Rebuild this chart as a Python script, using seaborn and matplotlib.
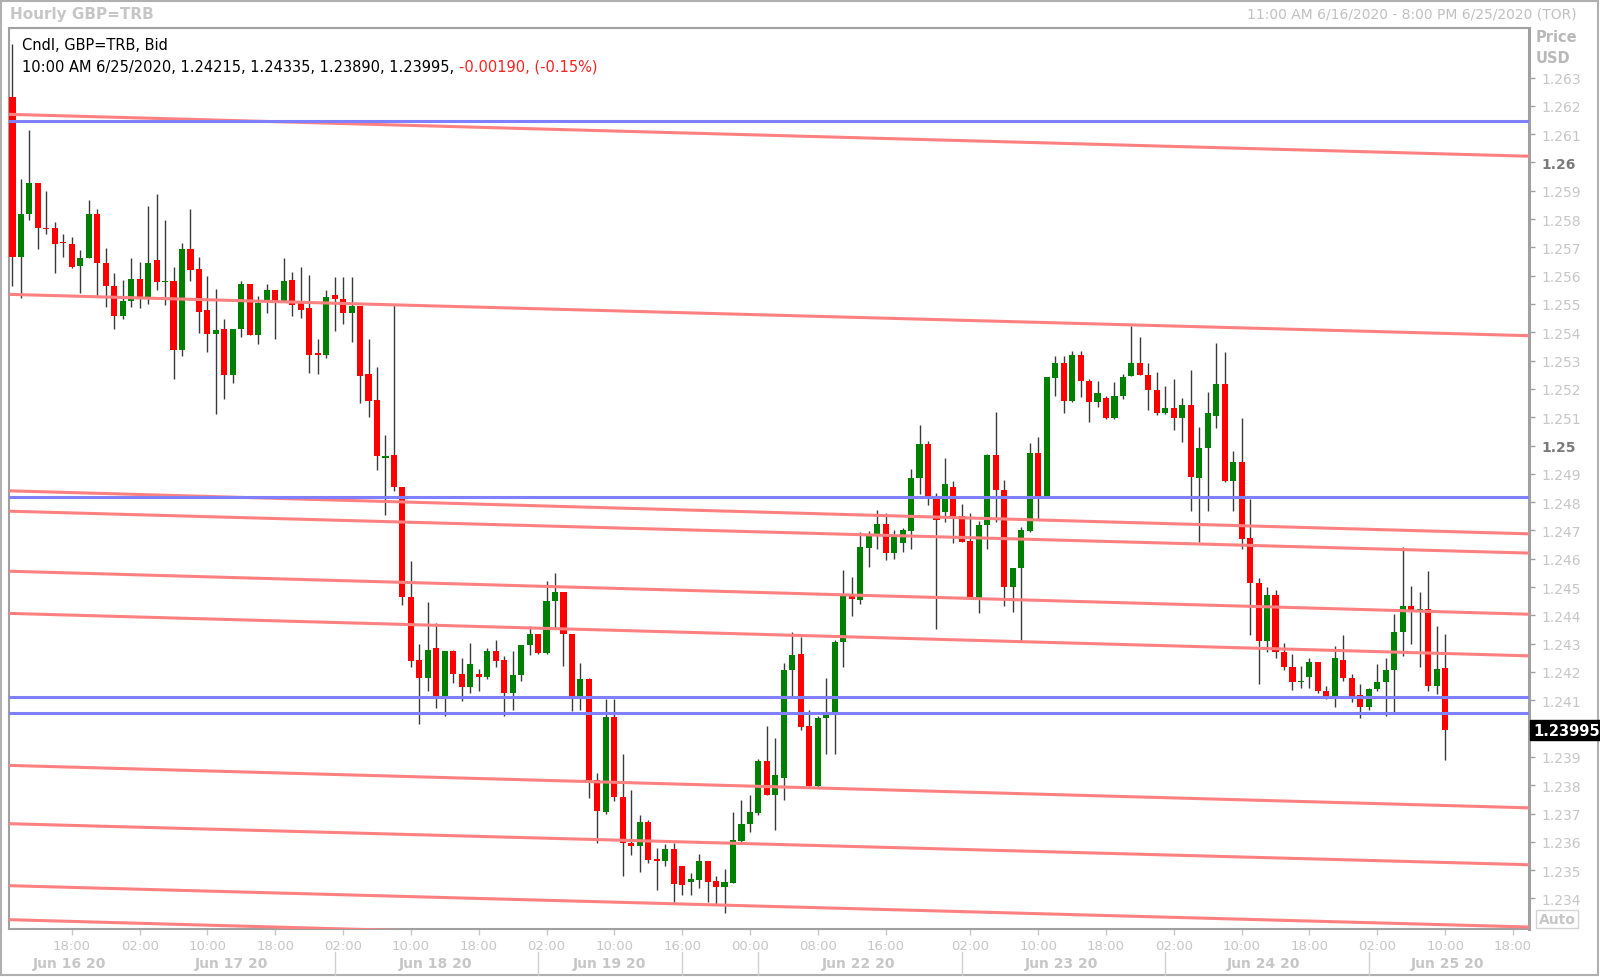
import numpy as np
import pandas as pd
import matplotlib
matplotlib.use("Agg")
import matplotlib.pyplot as plt
import matplotlib.transforms as mtransforms
from matplotlib.lines import Line2D
import seaborn as sns

# hourly GBP=TRB bars, 11:00 Jun 16 -> 10:00 Jun 25 (x = bar number)
opens = [1.26230, 1.25666, 1.25817, 1.25929, 1.25768, 1.25767, 1.25717, 1.25713, 1.25635, 1.25663,
         1.25817, 1.25646, 1.25562, 1.25458, 1.25510, 1.25587, 1.25523, 1.25654, 1.25577, 1.25581,
         1.25336, 1.25694, 1.25623, 1.25480, 1.25395, 1.25412, 1.25248, 1.25410, 1.25571, 1.25391,
         1.25510, 1.25550, 1.25510, 1.25583, 1.25502, 1.25485, 1.25327, 1.25320, 1.25531, 1.25519,
         1.25467, 1.25493, 1.25251, 1.25162, 1.24956, 1.24965, 1.24852, 1.24465, 1.24243, 1.24178,
         1.24284, 1.24115, 1.24274, 1.24193, 1.24146, 1.24193, 1.24184, 1.24274, 1.24243, 1.24126,
         1.24190, 1.24294, 1.24334, 1.24268, 1.24451, 1.24482, 1.24334, 1.24115, 1.24175, 1.23817,
         1.23705, 1.24042, 1.23759, 1.23597, 1.23585, 1.23669, 1.23539, 1.23533, 1.23575, 1.23513,
         1.23458, 1.23466, 1.23533, 1.23461, 1.23440, 1.23456, 1.23604, 1.23663, 1.23702, 1.23885,
         1.23767, 1.23827, 1.24208, 1.24262, 1.24008, 1.23797, 1.24036, 1.24048, 1.24305, 1.24468,
         1.24455, 1.24639, 1.24682, 1.24722, 1.24619, 1.24655, 1.24699, 1.24886, 1.25005, 1.24822,
         1.24766, 1.24853, 1.24752, 1.24662, 1.24461, 1.24718, 1.24966, 1.24842, 1.24499, 1.24567,
         1.24699, 1.24975, 1.24819, 1.25238, 1.25292, 1.25158, 1.25320, 1.25229, 1.25152, 1.25168,
         1.25096, 1.25174, 1.25247, 1.25291, 1.25250, 1.25197, 1.25115, 1.25132, 1.25096, 1.25143,
         1.24884, 1.24992, 1.25105, 1.25217, 1.24876, 1.24941, 1.24675, 1.24513, 1.24310, 1.24473,
         1.24269, 1.24218, 1.24163, 1.24183, 1.24237, 1.24134, 1.24116, 1.24242, 1.24178, 1.24118,
         1.24075, 1.24140, 1.24163, 1.24208, 1.24342, 1.24434, 1.24419, 1.24422, 1.24151, 1.24215]
highs = [1.26419, 1.25941, 1.26113, 1.25929, 1.25899, 1.25788, 1.25747, 1.25737, 1.25690, 1.25869,
         1.25835, 1.25698, 1.25608, 1.25583, 1.25664, 1.25648, 1.25846, 1.25890, 1.25795, 1.25629,
         1.25715, 1.25835, 1.25666, 1.25599, 1.25554, 1.25447, 1.25412, 1.25580, 1.25571, 1.25529,
         1.25571, 1.25550, 1.25664, 1.25614, 1.25629, 1.25603, 1.25378, 1.25550, 1.25597, 1.25597,
         1.25597, 1.25493, 1.25376, 1.25277, 1.25036, 1.25499, 1.24852, 1.24592, 1.24298, 1.24446,
         1.24373, 1.24274, 1.24279, 1.24248, 1.24301, 1.24211, 1.24284, 1.24313, 1.24255, 1.24274,
         1.24294, 1.24363, 1.24334, 1.24522, 1.24551, 1.24482, 1.24334, 1.24230, 1.24178, 1.23843,
         1.24106, 1.24106, 1.23911, 1.23782, 1.23695, 1.23676, 1.23579, 1.23594, 1.23597, 1.23513,
         1.23491, 1.23556, 1.23533, 1.23481, 1.23503, 1.23707, 1.23747, 1.23765, 1.23894, 1.24008,
         1.23965, 1.24232, 1.24341, 1.24324, 1.24065, 1.24045, 1.24178, 1.24312, 1.24562, 1.24535,
         1.24695, 1.24698, 1.24772, 1.24762, 1.24702, 1.24708, 1.24918, 1.25072, 1.25015, 1.24833,
         1.24955, 1.24873, 1.24792, 1.24762, 1.24735, 1.24969, 1.25118, 1.24879, 1.24567, 1.24712,
         1.25009, 1.25029, 1.25242, 1.25316, 1.25316, 1.25335, 1.25335, 1.25235, 1.25229, 1.25174,
         1.25226, 1.25253, 1.25423, 1.25382, 1.25291, 1.25258, 1.25209, 1.25235, 1.25167, 1.25268,
         1.25064, 1.25188, 1.25362, 1.25329, 1.24982, 1.25096, 1.24811, 1.24531, 1.24501, 1.24489,
         1.24301, 1.24263, 1.24222, 1.24248, 1.24237, 1.24151, 1.24290, 1.24330, 1.24193, 1.24157,
         1.24143, 1.24228, 1.24248, 1.24405, 1.24640, 1.24505, 1.24481, 1.24558, 1.24363, 1.24335]
lows = [1.25562, 1.25520, 1.25798, 1.25695, 1.25747, 1.25611, 1.25666, 1.25626, 1.25540, 1.25663,
        1.25526, 1.25490, 1.25410, 1.25447, 1.25490, 1.25486, 1.25501, 1.25550, 1.25496, 1.25234,
        1.25317, 1.25581, 1.25398, 1.25329, 1.25112, 1.25165, 1.25222, 1.25385, 1.25391, 1.25358,
        1.25467, 1.25376, 1.25510, 1.25459, 1.25450, 1.25257, 1.25253, 1.25309, 1.25406, 1.25430,
        1.25366, 1.25150, 1.25101, 1.24913, 1.24754, 1.24841, 1.24436, 1.24219, 1.24016, 1.24132,
        1.24074, 1.24045, 1.24161, 1.24099, 1.24125, 1.24132, 1.24175, 1.24219, 1.24045, 1.24067,
        1.24168, 1.24259, 1.24262, 1.24262, 1.24356, 1.24222, 1.24062, 1.24067, 1.23756, 1.23597,
        1.23698, 1.23744, 1.23481, 1.23553, 1.23495, 1.23524, 1.23430, 1.23514, 1.23387, 1.23411,
        1.23411, 1.23438, 1.23387, 1.23380, 1.23347, 1.23456, 1.23600, 1.23634, 1.23694, 1.23765,
        1.23640, 1.23747, 1.24114, 1.23994, 1.23794, 1.23794, 1.23910, 1.23910, 1.24218, 1.24399,
        1.24439, 1.24572, 1.24635, 1.24595, 1.24599, 1.24624, 1.24635, 1.24829, 1.24791, 1.24352,
        1.24731, 1.24655, 1.24659, 1.24465, 1.24408, 1.24635, 1.24731, 1.24432, 1.24412, 1.24308,
        1.24695, 1.24742, 1.24819, 1.25176, 1.25116, 1.25152, 1.25170, 1.25084, 1.25135, 1.25094,
        1.25094, 1.25164, 1.25247, 1.25250, 1.25127, 1.25108, 1.25111, 1.25056, 1.25011, 1.24770,
        1.24658, 1.24770, 1.25062, 1.24870, 1.24767, 1.24634, 1.24330, 1.24157, 1.24269, 1.24249,
        1.24208, 1.24137, 1.24145, 1.24143, 1.24125, 1.24104, 1.24075, 1.24169, 1.24093, 1.24036,
        1.24066, 1.24134, 1.24045, 1.24051, 1.24257, 1.24299, 1.24216, 1.24134, 1.24122, 1.23890]
closes = [1.25666, 1.25817, 1.25929, 1.25767, 1.25766, 1.25712, 1.25715, 1.25630, 1.25664, 1.25817,
          1.25646, 1.25562, 1.25458, 1.25510, 1.25587, 1.25523, 1.25646, 1.25577, 1.25581, 1.25336,
          1.25694, 1.25621, 1.25470, 1.25395, 1.25407, 1.25248, 1.25412, 1.25571, 1.25391, 1.25505,
          1.25550, 1.25510, 1.25580, 1.25498, 1.25480, 1.25320, 1.25320, 1.25523, 1.25517, 1.25467,
          1.25493, 1.25245, 1.25159, 1.24964, 1.24964, 1.24852, 1.24465, 1.24240, 1.24178, 1.24279,
          1.24115, 1.24274, 1.24193, 1.24146, 1.24229, 1.24184, 1.24274, 1.24240, 1.24126, 1.24190,
          1.24294, 1.24334, 1.24268, 1.24451, 1.24482, 1.24334, 1.24115, 1.24175, 1.23814, 1.23708,
          1.24042, 1.23759, 1.23597, 1.23585, 1.23669, 1.23536, 1.23533, 1.23575, 1.23452, 1.23449,
          1.23469, 1.23533, 1.23458, 1.23440, 1.23459, 1.23607, 1.23663, 1.23704, 1.23885, 1.23767,
          1.23835, 1.24208, 1.24260, 1.24004, 1.23797, 1.24036, 1.24048, 1.24305, 1.24468, 1.24459,
          1.24642, 1.24682, 1.24722, 1.24619, 1.24682, 1.24702, 1.24886, 1.25005, 1.24822, 1.24738,
          1.24865, 1.24752, 1.24659, 1.24465, 1.24718, 1.24966, 1.24842, 1.24499, 1.24567, 1.24702,
          1.24975, 1.24819, 1.25242, 1.25292, 1.25158, 1.25320, 1.25227, 1.25152, 1.25184, 1.25096,
          1.25174, 1.25241, 1.25291, 1.25250, 1.25197, 1.25115, 1.25132, 1.25096, 1.25143, 1.24890,
          1.24992, 1.25114, 1.25217, 1.24876, 1.24941, 1.24670, 1.24513, 1.24310, 1.24473, 1.24269,
          1.24216, 1.24165, 1.24169, 1.24237, 1.24134, 1.24116, 1.24248, 1.24177, 1.24116, 1.24075,
          1.24140, 1.24163, 1.24208, 1.24342, 1.24434, 1.24411, 1.24422, 1.24151, 1.24210, 1.23995]

# drawn levels
blue_levels = [1.26146, 1.24819, 1.24110, 1.24054]
channel_left = [1.26170, 1.25534, 1.24840, 1.24768, 1.24556, 1.24407, 1.23870, 1.23664, 1.23445, 1.23325]
channel_right = [1.26022, 1.25388, 1.24688, 1.24620, 1.24404, 1.24257, 1.23720, 1.23519, 1.23299, 1.23176]

# axis text (the 1.24 label sits under the last-price tag, so it is left blank)
y_ticks = [1.234, 1.235, 1.236, 1.237, 1.238, 1.239, 1.240, 1.241, 1.242, 1.243, 1.244, 1.245,
           1.246, 1.247, 1.248, 1.249, 1.250, 1.251, 1.252, 1.253, 1.254, 1.255, 1.256, 1.257,
           1.258, 1.259, 1.260, 1.261, 1.262, 1.263]
y_tick_labels = ["1.234", "1.235", "1.236", "1.237", "1.238", "1.239", "", "1.241", "1.242",
                 "1.243", "1.244", "1.245", "1.246", "1.247", "1.248", "1.249", "1.25", "1.251",
                 "1.252", "1.253", "1.254", "1.255", "1.256", "1.257", "1.258", "1.259", "1.26",
                 "1.261", "1.262", "1.263"]
hour_pos = [7, 15, 23, 31, 39, 47, 55, 63, 71, 79, 87, 95, 103, 113, 121, 129, 137, 145, 153, 161, 169, 177]
hour_labels = ["18:00", "02:00", "10:00", "18:00", "02:00", "10:00", "18:00", "02:00", "10:00", "16:00",
               "00:00", "08:00", "16:00", "02:00", "10:00", "18:00", "02:00", "10:00", "18:00", "02:00",
               "10:00", "18:00"]
day_pos = [6.7, 25.8, 49.9, 70.4, 99.8, 123.7, 147.6, 169.3]
day_labels = ["Jun 16 20", "Jun 17 20", "Jun 18 20", "Jun 19 20", "Jun 22 20", "Jun 23 20",
              "Jun 24 20", "Jun 25 20"]
day_breaks = [38, 62, 79, 88, 112, 136, 160]

W, H = 1600, 978
XLIM = (-0.41, 178.9)
YLIM = (1.23292, 1.26475)
GRAY = "#c6c6c6"

sns.set_theme(style="white")
plt.rcParams["font.family"] = ["DejaVu Sans"]

fig = plt.figure(figsize=(W / 100, H / 100), dpi=100)
fig.patch.set_facecolor("white")
ax = fig.add_axes([9 / W, 1 - 930 / H, (1529 - 9) / W, (930 - 29) / H])
ax.set_facecolor("white")

df = pd.DataFrame({"x": np.arange(len(opens)), "o": opens, "h": highs, "l": lows, "c": closes})
df["up"] = df["c"] >= df["o"]
df["lo"] = df[["o", "c"]].min(axis=1)
df["size"] = (df["c"] - df["o"]).abs().clip(lower=0.00004)

# wicks + bodies
ax.vlines(df["x"], df["l"], df["h"], color="#3a3a3a", lw=1.0, zorder=3)
ax.bar(df["x"], df["size"], bottom=df["lo"], width=0.72,
       color=np.where(df["up"], "#008000", "#ff0000"), linewidth=0, zorder=4)

# channel lines
rows = []
for k, (a, b) in enumerate(zip(channel_left, channel_right)):
    rows.append({"line": k, "x": XLIM[0], "price": a})
    rows.append({"line": k, "x": XLIM[1], "price": b})
lines_df = pd.DataFrame(rows)
sns.lineplot(data=lines_df, x="x", y="price", units="line", estimator=None,
             color="#ff8080", lw=2.2, ax=ax, legend=False, zorder=5)
for lv in blue_levels:
    ax.axhline(lv, color="#8080ff", lw=2.2, zorder=6)

ax.set_xlim(*XLIM)
ax.set_ylim(*YLIM)
ax.set_xlabel("")
ax.set_ylabel("")

for side, sp in ax.spines.items():
    sp.set_visible(True)
    sp.set_color("#a0a0a0")
    sp.set_linewidth(1.5)
ax.spines["right"].set_linewidth(2.2)

# y axis on the right
ax.yaxis.tick_right()
ax.set_yticks(y_ticks)
ax.set_yticklabels(y_tick_labels)
ax.tick_params(axis="y", right=True, left=False, length=4, width=1, color="#a0a0a0",
               pad=5, labelsize=10, labelcolor=GRAY)
for lab in ax.get_yticklabels():
    if lab.get_text() in ("1.26", "1.25"):
        lab.set_fontweight("bold")
        lab.set_color("#7a7a7a")

# x axis
ax.set_xticks(hour_pos)
ax.set_xticklabels(hour_labels)
ax.tick_params(axis="x", bottom=True, length=4, width=1, color="#c8c8c8",
               pad=3, labelsize=9.5, labelcolor=GRAY)

blend = mtransforms.blended_transform_factory(ax.transData, fig.transFigure)
for p, lab in zip(day_pos, day_labels):
    ax.text(p, 1 - 964 / H, lab, transform=blend, ha="center", va="center",
            fontsize=10, fontweight="bold", color=GRAY)
for p in day_breaks:
    fig.add_artist(Line2D([p, p], [1 - 953 / H, 1 - 976 / H], transform=blend,
                          color="#d0d0d0", lw=1))

# header
fig.text(10 / W, 1 - 15 / H, "Hourly GBP=TRB", fontsize=11, fontweight="bold",
         color=GRAY, va="center", ha="left")
fig.text(1577 / W, 1 - 15 / H, "11:00 AM 6/16/2020 - 8:00 PM 6/25/2020 (TOR)",
         fontsize=10, color="#c0c0c0", va="center", ha="right")
fig.text(1536 / W, 1 - 38 / H, "Price", fontsize=10.5, fontweight="bold", color="#b8b8b8", va="center")
fig.text(1536 / W, 1 - 59 / H, "USD", fontsize=10.5, fontweight="bold", color="#b8b8b8", va="center")

fig.text(22 / W, 1 - 46 / H, "Cndl, GBP=TRB, Bid", fontsize=10.5, color="black", va="center")
t1 = fig.text(22 / W, 1 - 67 / H, "10:00 AM 6/25/2020, 1.24215, 1.24335, 1.23890, 1.23995, ",
              fontsize=10.5, color="black", va="center")
fig.canvas.draw()
bb = t1.get_window_extent(renderer=fig.canvas.get_renderer())
fig.text(bb.x1 / fig.bbox.width, 1 - 67 / H, "-0.00190, (-0.15%)", fontsize=10.5,
         color="#ff2020", va="center")

# last price tag and Auto button
last_blend = mtransforms.blended_transform_factory(fig.transFigure, ax.transData)
fig.text(1533 / W, closes[-1], "1.23995", transform=last_blend, fontsize=10.5, fontweight="bold",
         color="white", va="center", ha="left",
         bbox=dict(boxstyle="square,pad=0.2", fc="black", ec="black"))
fig.text(1557 / W, 1 - 920 / H, "Auto", fontsize=10, fontweight="bold", color=GRAY,
         va="center", ha="center",
         bbox=dict(boxstyle="square,pad=0.15", fc="white", ec="#d4d4d4", lw=1))

# outer window frame
fig.add_artist(plt.Rectangle((1 / W, 2 / H), (W - 3) / W, (H - 3.5) / H, transform=fig.transFigure,
                             fill=False, ec="#b0b0b0", lw=1.5))

fig.savefig("out.png", dpi=100)
